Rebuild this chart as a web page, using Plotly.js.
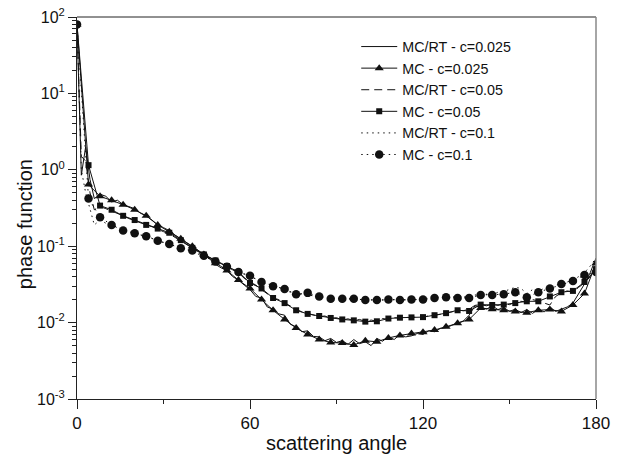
<!DOCTYPE html>
<html>
<head>
<meta charset="utf-8">
<script src="https://cdn.plot.ly/plotly-3.0.1.min.js"></script>
<style>html,body{margin:0;padding:0;background:#fff;}#chart{width:632px;height:454px;}</style>
</head>
<body>
<div id="chart"></div>
<script>
// ---- data ----
var rtAngles = [0,1.5,3,4.5,6,8,10,12,14,16,
  18,20,22,24,26,28,30,32,34,36,
  38,40,42,44,46,48,50,52,54,56,
  58,60,62,64,66,68,70,72,74,76,
  78,80,82,84,86,88,90,92,94,96,
  98,100,102,104,106,108,110,112,114,116,
  118,120,122,124,126,128,130,132,134,136,
  138,140,142,144,146,148,150,152,154,156,
  158,160,162,164,166,168,170,172,174,176,
  178,180];

var rtC025 = [80,0.85,2.0,0.75,0.42,0.48,0.45,0.38,0.40,0.35,
  0.33,0.31,0.27,0.25,0.22,0.19,0.175,0.16,0.14,0.125,
  0.11,0.098,0.088,0.078,0.068,0.058,0.052,0.048,0.040,0.036,
  0.031,0.027,0.022,0.021,0.016,0.015,0.013,0.0125,0.0095,0.0088,
  0.0076,0.0078,0.0066,0.0065,0.0058,0.0062,0.0055,0.0058,0.0052,0.0060,
  0.0053,0.0056,0.0050,0.0062,0.0057,0.0066,0.0060,0.0070,0.0065,0.0067,
  0.0072,0.0070,0.0078,0.0076,0.0084,0.0086,0.0092,0.0098,0.0105,0.0125,
  0.0165,0.0160,0.0150,0.0165,0.0148,0.0158,0.0140,0.0150,0.0135,0.0148,
  0.0132,0.0150,0.0138,0.0160,0.0140,0.0150,0.0160,0.0180,0.024,0.032,
  0.045,0.07];

var rtC05 = [80,1.5,1.3,0.5,0.30,0.33,0.31,0.29,0.27,0.25,
  0.23,0.215,0.20,0.19,0.18,0.165,0.155,0.145,0.13,0.118,
  0.105,0.095,0.085,0.078,0.071,0.064,0.058,0.054,0.049,0.045,
  0.038,0.034,0.031,0.027,0.024,0.021,0.020,0.018,0.0165,0.015,
  0.0138,0.0132,0.0125,0.0120,0.0122,0.0113,0.0116,0.0108,0.0112,0.0106,
  0.0110,0.0103,0.0108,0.0104,0.0113,0.0110,0.0116,0.0114,0.0118,0.0115,
  0.0120,0.0117,0.0123,0.0125,0.0128,0.0134,0.0138,0.0146,0.0143,0.0150,
  0.0168,0.0172,0.0166,0.0175,0.0168,0.0176,0.0172,0.0185,0.0190,0.0185,
  0.0200,0.0192,0.0180,0.0170,0.0220,0.0245,0.0260,0.0250,0.0290,0.0330,
  0.040,0.055];

var rtC1 = [80,1.0,0.5,0.3,0.19,0.22,0.20,0.19,0.175,0.165,
  0.155,0.148,0.142,0.135,0.127,0.118,0.112,0.107,0.100,0.094,
  0.090,0.086,0.079,0.074,0.068,0.063,0.058,0.054,0.050,0.046,
  0.043,0.040,0.037,0.034,0.032,0.030,0.029,0.027,0.025,0.024,
  0.0235,0.023,0.0225,0.022,0.0215,0.021,0.0205,0.0208,0.0203,0.0205,
  0.020,0.0202,0.0198,0.020,0.0197,0.0201,0.0199,0.020,0.0198,0.0203,
  0.020,0.0205,0.0208,0.021,0.0215,0.0212,0.0218,0.022,0.0215,0.0222,
  0.023,0.0228,0.0235,0.023,0.025,0.0255,0.027,0.029,0.028,0.024,
  0.027,0.026,0.028,0.029,0.031,0.032,0.034,0.036,0.040,0.045,
  0.055,0.07];

var mcAngles = [0,4,8,12,16,20,24,28,32,36,
  40,44,48,52,56,60,64,68,72,76,
  80,84,88,92,96,100,104,108,112,116,
  120,124,128,132,136,140,144,148,152,156,
  160,164,168,172,176,180];

var mcC025 = [80,0.64,0.45,0.40,0.35,0.30,0.25,0.19,0.155,0.125,
  0.10,0.078,0.060,0.048,0.036,0.028,0.020,0.0145,0.011,0.0085,
  0.0070,0.0060,0.0055,0.0054,0.0051,0.0058,0.0056,0.0063,0.0068,0.0072,
  0.0075,0.0080,0.0088,0.0098,0.0110,0.0155,0.0150,0.0145,0.0140,0.0135,
  0.0145,0.0148,0.0140,0.0170,0.024,0.06];

var mcC05 = [80,1.15,0.34,0.30,0.25,0.22,0.19,0.17,0.15,0.12,
  0.095,0.078,0.065,0.055,0.046,0.033,0.028,0.021,0.018,0.0145,
  0.0130,0.0122,0.0115,0.0110,0.0107,0.0103,0.0104,0.0113,0.0116,0.0117,
  0.0118,0.0125,0.0133,0.0145,0.0142,0.0172,0.0170,0.0172,0.0180,0.0190,
  0.0190,0.0220,0.0250,0.0260,0.0340,0.05];

var mcC1 = [80,0.42,0.24,0.19,0.16,0.148,0.135,0.118,0.107,0.094,
  0.088,0.075,0.063,0.054,0.046,0.041,0.034,0.030,0.0275,0.0235,
  0.0245,0.0220,0.0205,0.0205,0.0205,0.0198,0.0198,0.0200,0.0198,0.0200,
  0.0200,0.0210,0.0214,0.0210,0.0210,0.0230,0.0230,0.0235,0.0250,0.0215,
  0.0250,0.0280,0.0320,0.0350,0.0420,0.046];

var seriesNames = ['MC/RT - c=0.025','MC - c=0.025','MC/RT - c=0.05','MC - c=0.05','MC/RT - c=0.1','MC - c=0.1'];
var yTickVals = [0.001,0.01,0.1,1,10,100];
var yTickText = ['10<sup>-3</sup>','10<sup>-2</sup>','10<sup>-1</sup>','10<sup>0</sup>','10<sup>1</sup>','10<sup>2</sup>'];
var xTickVals = [0,60,120,180];

// ---- chart ----
var ink = '#111';
var traces = [
  {x: rtAngles, y: rtC025, name: seriesNames[0], mode: 'lines', line: {color: ink, width: 1}},
  {x: mcAngles, y: mcC025, name: seriesNames[1], mode: 'lines+markers', line: {color: ink, width: 1},
   marker: {symbol: 'triangle-up', size: 8, color: ink}},
  {x: rtAngles, y: rtC05, name: seriesNames[2], mode: 'lines', line: {color: ink, width: 1, dash: '8px,5px'}},
  {x: mcAngles, y: mcC05, name: seriesNames[3], mode: 'lines+markers', line: {color: ink, width: 1},
   marker: {symbol: 'square', size: 6, color: ink}},
  {x: rtAngles, y: rtC1, name: seriesNames[4], mode: 'lines', line: {color: ink, width: 1, dash: '1.5px,4px'}},
  {x: mcAngles, y: mcC1, name: seriesNames[5], mode: 'lines+markers', line: {color: ink, width: 1, dash: '1.5px,4px'},
   marker: {symbol: 'circle', size: 8.5, color: ink}}
];

var minorY = [];
yTickVals.slice(0, -1).forEach(function (d) { for (var k = 2; k <= 9; k++) minorY.push(d * k); });

var font = 'Liberation Sans, Arial, Helvetica, sans-serif';
var layout = {
  width: 632, height: 454,
  margin: {l: 77, r: 36, t: 17, b: 55, pad: 0},
  paper_bgcolor: '#fff', plot_bgcolor: '#fff',
  font: {family: font, color: '#111', size: 16},
  showlegend: true,
  legend: {x: 0.538, y: 0.964, xanchor: 'left', yanchor: 'top', bgcolor: 'rgba(0,0,0,0)',
           font: {family: font, size: 14.3, color: '#111'}, itemwidth: 36},
  xaxis: {range: [0, 180], tickmode: 'array', tickvals: xTickVals, ticks: 'outside', ticklen: 9,
          tickcolor: '#222', showline: true, linecolor: '#222', linewidth: 1, showgrid: false, zeroline: false,
          tickfont: {size: 17},
          minor: {tickmode: 'array', tickvals: [30, 90, 150], ticks: 'outside', ticklen: 4, tickcolor: '#222', showgrid: false},
          title: {text: 'scattering angle', font: {size: 20}, standoff: 4}},
  yaxis: {type: 'log', range: [-3, 2], tickmode: 'array', tickvals: yTickVals, ticktext: yTickText,
          ticks: 'outside', ticklen: 8, tickcolor: '#222', showline: true, linecolor: '#222', linewidth: 1,
          showgrid: false, zeroline: false, tickfont: {size: 16},
          minor: {tickmode: 'array', tickvals: minorY, ticks: 'outside', ticklen: 4, tickcolor: '#222', showgrid: false}},
  annotations: [
    {text: 'phase function', xref: 'paper', yref: 'paper', x: -0.1, y: 0.458, textangle: -90,
     showarrow: false, xanchor: 'center', yanchor: 'middle', font: {size: 20, family: font, color: '#111'}}
  ],
  shapes: [
    {type: 'line', xref: 'paper', yref: 'paper', x0: 0, x1: 1, y0: 1, y1: 1, line: {color: '#222', width: 1}},
    {type: 'line', xref: 'paper', yref: 'paper', x0: 1, x1: 1, y0: 0, y1: 1, line: {color: '#888', width: 1.5}}
  ]
};

Plotly.newPlot('chart', traces, layout, {displayModeBar: false, staticPlot: true});
</script>
</body>
</html>
